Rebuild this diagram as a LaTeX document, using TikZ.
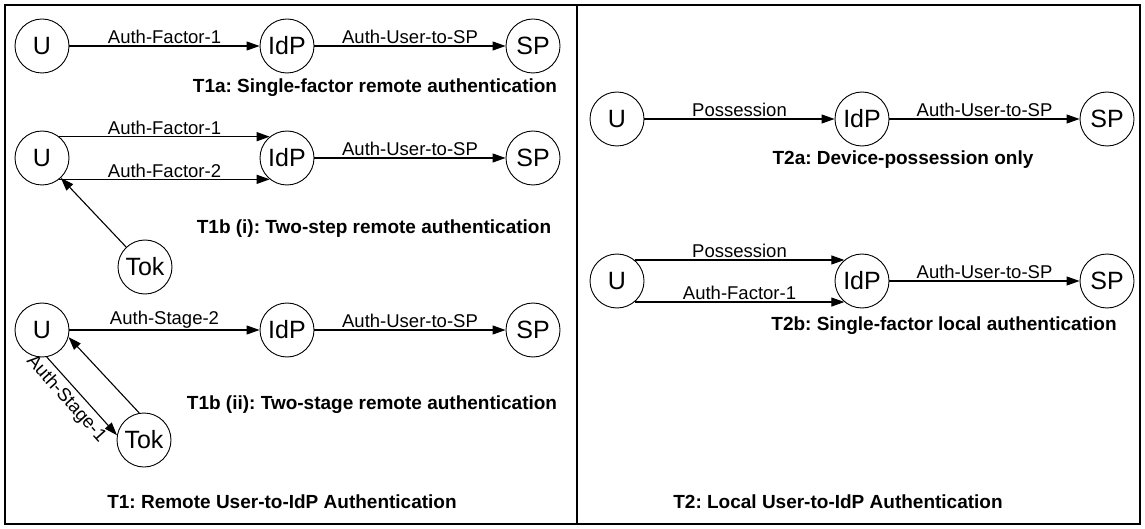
\documentclass[tikz,border=0pt]{standalone}
\usepackage{fontspec}
\setmainfont{Liberation Sans}
\usetikzlibrary{arrows.meta}
\frenchspacing
\begin{document}
\begin{tikzpicture}[x=1pt,y=-1pt,
  ent/.style={circle,draw,line width=0.9pt,minimum size=54pt,inner sep=0pt,font=\fontsize{25}{28}\selectfont},
  flow/.style={draw,line width=1.1pt,-{Triangle[length=13pt,width=9pt]}},
  lbl/.style={font=\fontsize{18.5}{20}\selectfont,above,inner sep=1.5pt},
  slbl/.style={font=\fontsize{18.5}{20}\selectfont,sloped,below,inner sep=4.5pt},
  ttl/.style={font=\fontsize{19}{22}\selectfont\bfseries},
  frame/.style={line width=1.6pt}]
\useasboundingbox (0,0) rectangle (1145,529);
\draw[frame] (5,5) rectangle (1140,524);
\draw[frame] (577,5) -- (577,524);

% T1a
\node[ent] (u1) at (42,46) {U};
\node[ent] (i1) at (287,46) {IdP};
\node[ent] (s1) at (533,46) {SP};
\draw[flow] (u1) -- node[lbl]{Auth-Factor-1} (i1);
\draw[flow] (i1) -- node[lbl]{Auth-User-to-SP} (s1);
\node[ttl] (t1a) at (375,88) {T1a: Single-factor remote authentication};

% T1b (i)
\node[ent] (u2) at (42,158) {U};
\node[ent] (i2) at (287,158) {IdP};
\node[ent] (s2) at (533,158) {SP};
\node[ent] (k2) at (145,267) {Tok};
\draw[flow] (u2.51) -- node[lbl]{Auth-Factor-1} (i2.129);
\draw[flow] (u2.-51) -- node[lbl]{Auth-Factor-2} (i2.-129);
\draw[flow] (i2) -- node[lbl]{Auth-User-to-SP} (s2);
\draw[flow] (k2) -- (u2);
\node[ttl] (t1b1) at (374,229) {T1b (i): Two-step remote authentication};

% T1b (ii)
\node[ent] (u3) at (42,330) {U};
\node[ent] (i3) at (287,330) {IdP};
\node[ent] (s3) at (533,330) {SP};
\node[ent] (k3) at (144,440) {Tok};
\draw[flow] (u3) -- node[lbl]{Auth-Stage-2} (i3);
\draw[flow] (i3) -- node[lbl]{Auth-User-to-SP} (s3);
\draw[flow] (u3.-80) -- node[slbl,pos=0.42]{Auth-Stage-1} (k3.170);
\draw[flow] (k3.100) -- (u3.-15);
\node[ttl] (t1b2) at (372,405) {T1b (ii): Two-stage remote authentication};

\node[ttl] (t1) at (282,502) {T1: Remote User-to-IdP Authentication};

% T2a
\node[ent] (u4) at (617,119) {U};
\node[ent] (i4) at (862,119) {IdP};
\node[ent] (s4) at (1107,119) {SP};
\draw[flow] (u4) -- node[lbl]{Possession} (i4);
\draw[flow] (i4) -- node[lbl]{Auth-User-to-SP} (s4);
\node[ttl] (t2a) at (903,160) {T2a: Device-possession only};

% T2b
\node[ent] (u5) at (617,281) {U};
\node[ent] (i5) at (862,281) {IdP};
\node[ent] (s5) at (1107,281) {SP};
\draw[flow] (u5.50) -- node[lbl]{Possession} (i5.130);
\draw[flow] (u5.-50) -- node[lbl]{Auth-Factor-1} (i5.-130);
\draw[flow] (i5) -- node[lbl]{Auth-User-to-SP} (s5);
\node[ttl] (t2b) at (944,326) {T2b: Single-factor local authentication};

\node[ttl] (t2) at (838,502) {T2: Local User-to-IdP Authentication};
\end{tikzpicture}
\end{document}
